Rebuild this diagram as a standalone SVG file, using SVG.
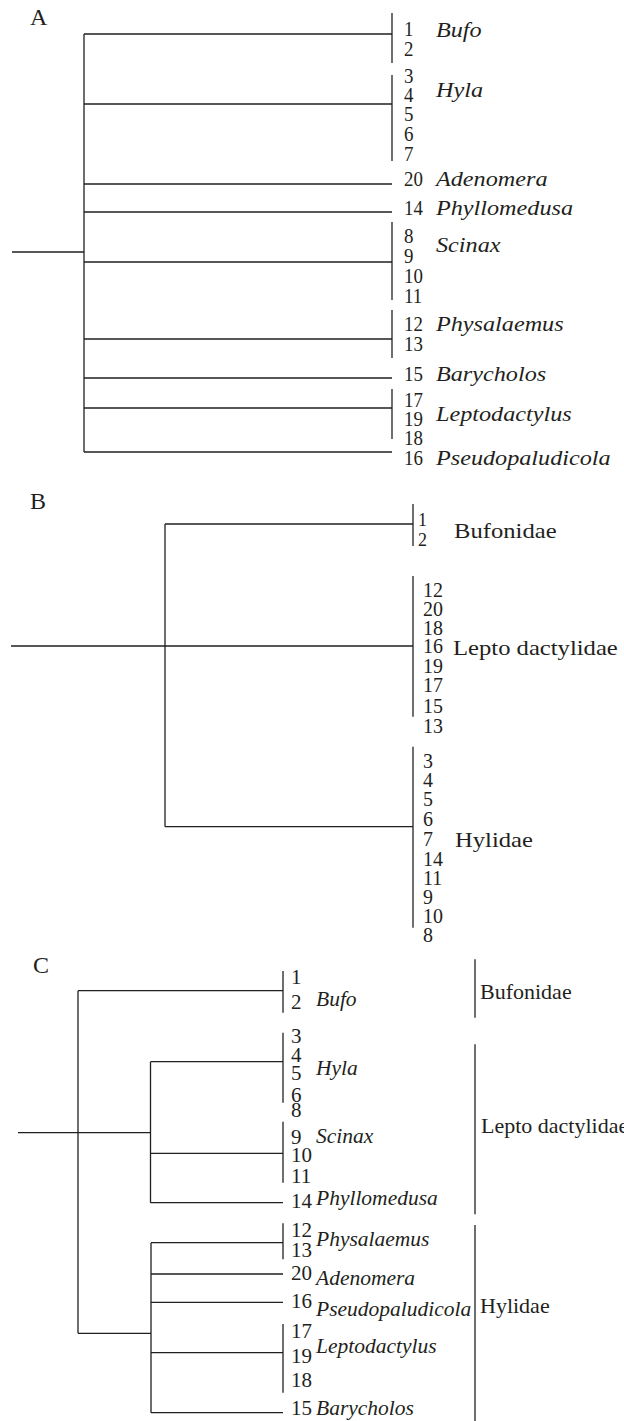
<svg xmlns="http://www.w3.org/2000/svg" width="624" height="1421" viewBox="0 0 624 1421">
<style>
.ln{fill:none;stroke:#231f20;stroke-width:1.3}
text{font-family:"Liberation Serif","Times New Roman",serif;fill:#231f20}
.lab{font-size:24px}
.num{font-size:21px}
.nsm{font-size:18px}
.nm{font-size:22px;font-style:italic}
.nmc{font-size:21.5px;font-style:italic}
.fam{font-size:22px}
</style>
<rect width="624" height="1421" fill="#fff"/>

<!-- ================= PANEL A ================= -->
<g id="panelA">
<text class="lab" x="30" y="25">A</text>
<g id="A-connectors">
<path class="ln" d="M12 252H84M84 34V452M84 34H392M84 104H392M84 184H392M84 212H392M84 262H392M84 339H392M84 378H392M84 408H392M84 452H392"/>
</g>
<g id="A-bufo">
<path class="ln" d="M392 13V63"/>
<text class="num" transform="translate(404,0) scale(0.9,1)"><tspan x="0" y="36">1</tspan><tspan x="0" y="55.7">2</tspan></text>
<text class="nm" transform="translate(436,37) scale(1.1,1)">Bufo</text>
</g>
<g id="A-hyla">
<path class="ln" d="M392 75V161"/>
<text class="num" transform="translate(404,0) scale(0.9,1)"><tspan x="0" y="83">3</tspan><tspan x="0" y="102">4</tspan><tspan x="0" y="121.5">5</tspan><tspan x="0" y="141">6</tspan><tspan x="0" y="161">7</tspan></text>
<text class="nm" transform="translate(436,97) scale(1.1,1)">Hyla</text>
</g>
<g id="A-adenomera">
<text class="num" transform="translate(404,0) scale(0.9,1)"><tspan x="0" y="186">20</tspan></text>
<text class="nm" transform="translate(436,186) scale(1.1,1)">Adenomera</text>
</g>
<g id="A-phyllomedusa">
<text class="num" transform="translate(404,0) scale(0.9,1)"><tspan x="0" y="215">14</tspan></text>
<text class="nm" transform="translate(436,215) scale(1.1,1)">Phyllomedusa</text>
</g>
<g id="A-scinax">
<path class="ln" d="M392 222V300"/>
<text class="num" transform="translate(404,0) scale(0.9,1)"><tspan x="0" y="243">8</tspan><tspan x="0" y="263">9</tspan><tspan x="0" y="283">10</tspan><tspan x="0" y="302.7">11</tspan></text>
<text class="nm" transform="translate(436,252) scale(1.1,1)">Scinax</text>
</g>
<g id="A-physalaemus">
<path class="ln" d="M392 310V358"/>
<text class="num" transform="translate(404,0) scale(0.9,1)"><tspan x="0" y="331">12</tspan><tspan x="0" y="350.7">13</tspan></text>
<text class="nm" transform="translate(436,331) scale(1.1,1)">Physalaemus</text>
</g>
<g id="A-barycholos">
<text class="num" transform="translate(404,0) scale(0.9,1)"><tspan x="0" y="381">15</tspan></text>
<text class="nm" transform="translate(436,381) scale(1.1,1)">Barycholos</text>
</g>
<g id="A-leptodactylus">
<path class="ln" d="M392 389V439"/>
<text class="num" transform="translate(404,0) scale(0.9,1)"><tspan x="0" y="406.7">17</tspan><tspan x="0" y="426">19</tspan><tspan x="0" y="445">18</tspan></text>
<text class="nm" transform="translate(436,421) scale(1.1,1)">Leptodactylus</text>
</g>
<g id="A-pseudopaludicola">
<text class="num" transform="translate(404,0) scale(0.9,1)"><tspan x="0" y="465">16</tspan></text>
<text class="nm" transform="translate(436,465) scale(1.1,1)">Pseudopaludicola</text>
</g>
</g>

<!-- ================= PANEL B ================= -->
<g id="panelB">
<text class="lab" x="30" y="509">B</text>
<g id="B-connectors">
<path class="ln" d="M11 646H413M165 524V826.7M165 524H413M165 826.7H413"/>
</g>
<g id="B-bufonidae">
<path class="ln" d="M413 504V546"/>
<text class="nsm"><tspan x="418" y="526">1</tspan><tspan x="418" y="546">2</tspan></text>
<text class="fam" transform="translate(454,538) scale(1.12,1)">Bufonidae</text>
</g>
<g id="B-leptodactylidae">
<path class="ln" d="M413 576V716.7"/>
<text class="num" transform="translate(423,0) scale(0.95,1)"><tspan x="0" y="597.3">12</tspan><tspan x="0" y="616.3">20</tspan><tspan x="0" y="635">18</tspan><tspan x="0" y="653.5">16</tspan><tspan x="0" y="673">19</tspan><tspan x="0" y="692">17</tspan><tspan x="0" y="712.7">15</tspan><tspan x="0" y="732.7">13</tspan></text>
<text class="fam" transform="translate(453,655) scale(1.12,1)">Lepto dactylidae</text>
</g>
<g id="B-hylidae">
<path class="ln" d="M413 746.7V927.7"/>
<text class="num" transform="translate(423,0) scale(0.95,1)"><tspan x="0" y="767.7">3</tspan><tspan x="0" y="787.3">4</tspan><tspan x="0" y="806.5">5</tspan><tspan x="0" y="826">6</tspan><tspan x="0" y="846">7</tspan><tspan x="0" y="866">14</tspan><tspan x="0" y="885">11</tspan><tspan x="0" y="904">9</tspan><tspan x="0" y="923">10</tspan><tspan x="0" y="942">8</tspan></text>
<text class="fam" transform="translate(455,847) scale(1.12,1)">Hylidae</text>
</g>
</g>

<!-- ================= PANEL C ================= -->
<g id="panelC">
<text class="lab" x="33" y="973">C</text>
<g id="C-connectors">
<path class="ln" d="M18 1132.7H150.5M78 990.7V1333.3M78 990.7H283M78 1333.3H151M150.5 1061.7V1202.7M150.5 1061.7H283M150.5 1153.3H283M150.5 1202.7H283M151 1242.7V1412.7M151 1242.7H283M151 1274H283M151 1302.3H283M151 1352.7H283M151 1412.7H283"/>
</g>
<g id="C-bufo">
<path class="ln" d="M283 971V1012.7"/>
<text class="num"><tspan x="291" y="984">1</tspan><tspan x="291" y="1009">2</tspan></text>
<text class="nmc" x="316" y="1006">Bufo</text>
</g>
<g id="C-hyla">
<path class="ln" d="M283 1032.7V1102.7"/>
<text class="num"><tspan x="291" y="1043.3">3</tspan><tspan x="291" y="1061.7">4</tspan><tspan x="291" y="1080">5</tspan><tspan x="291" y="1101.7">6</tspan><tspan x="291" y="1117">8</tspan></text>
<text class="nmc" x="316" y="1075">Hyla</text>
</g>
<g id="C-scinax">
<path class="ln" d="M283 1121.7V1182.7"/>
<text class="num"><tspan x="291" y="1144">9</tspan><tspan x="291" y="1162">10</tspan><tspan x="291" y="1183.3">11</tspan></text>
<text class="nmc" x="316" y="1143.3">Scinax</text>
</g>
<g id="C-phyllomedusa">
<text class="num" x="291" y="1208.3">14</text>
<text class="nmc" x="316" y="1205">Phyllomedusa</text>
</g>
<g id="C-physalaemus">
<path class="ln" d="M283 1223.3V1259.3"/>
<text class="num"><tspan x="291" y="1236.7">12</tspan><tspan x="291" y="1257.3">13</tspan></text>
<text class="nmc" x="316" y="1246">Physalaemus</text>
</g>
<g id="C-adenomera">
<text class="num" x="291" y="1280">20</text>
<text class="nmc" x="316" y="1285">Adenomera</text>
</g>
<g id="C-pseudopaludicola">
<text class="num" x="291" y="1308.3">16</text>
<text class="nmc" x="316" y="1316">Pseudopaludicola</text>
</g>
<g id="C-leptodactylus">
<path class="ln" d="M283 1324V1392.7"/>
<text class="num"><tspan x="291" y="1338.3">17</tspan><tspan x="291" y="1362.7">19</tspan><tspan x="291" y="1386.7">18</tspan></text>
<text class="nmc" x="316" y="1352.7">Leptodactylus</text>
</g>
<g id="C-barycholos">
<text class="num" x="291" y="1415">15</text>
<text class="nmc" x="316" y="1415">Barycholos</text>
</g>
<g id="C-fam-bufonidae">
<path class="ln" d="M475 959.3V1017.7"/>
<text class="fam" x="480" y="999.3">Bufonidae</text>
</g>
<g id="C-fam-leptodactylidae">
<path class="ln" d="M475 1044.3V1214.3"/>
<text class="fam" x="481" y="1133.3">Lepto dactylidae</text>
</g>
<g id="C-fam-hylidae">
<path class="ln" d="M475 1225V1421"/>
<text class="fam" x="480" y="1313.3">Hylidae</text>
</g>
</g>
</svg>
